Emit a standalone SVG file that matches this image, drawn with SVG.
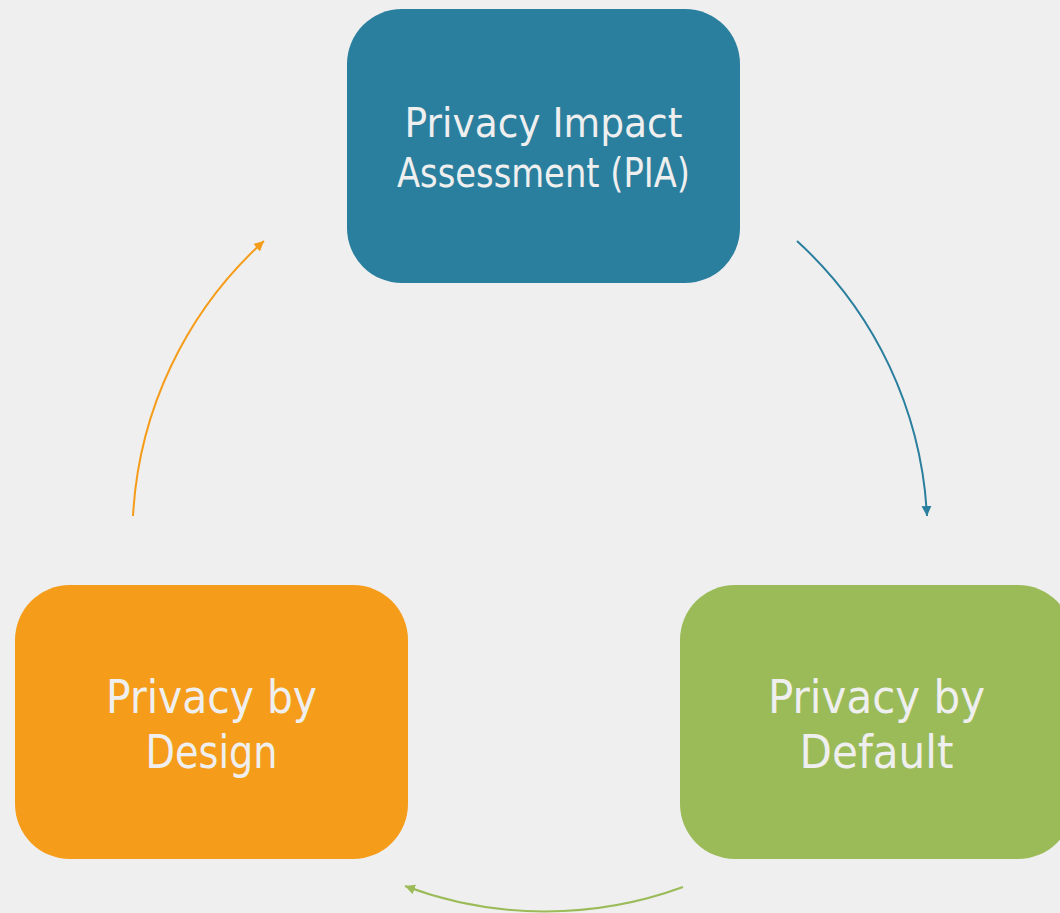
<svg xmlns="http://www.w3.org/2000/svg" width="1060" height="913" viewBox="0 0 1060 913">
<style>
.lbl{font-family:"DejaVu Sans","Verdana",sans-serif;fill:#efefef;text-anchor:middle}
.t{font-size:40px}
.b{font-size:47px}
.c{fill:none;stroke-width:2}
</style>
<defs>
<marker id="mb" markerUnits="userSpaceOnUse" markerWidth="12" markerHeight="12" refX="10" refY="5" orient="auto"><path d="M0,0 L10,5 L0,10 Z" fill="#2a7f9e"/></marker>
<marker id="mg" markerUnits="userSpaceOnUse" markerWidth="12" markerHeight="12" refX="10" refY="5" orient="auto"><path d="M0,0 L10,5 L0,10 Z" fill="#9bbb59"/></marker>
<marker id="mo" markerUnits="userSpaceOnUse" markerWidth="12" markerHeight="12" refX="10" refY="5" orient="auto"><path d="M0,0 L10,5 L0,10 Z" fill="#f59d1a"/></marker>
</defs>
<rect width="1060" height="913" fill="#efefef"/>
<g id="connectors">
<path class="c" d="M797,241 A400,400 0 0 1 927,516" stroke="#2a7f9e" marker-end="url(#mb)"/>
<path class="c" d="M683,887 A400,400 0 0 1 405,886" stroke="#9bbb59" marker-end="url(#mg)"/>
<path class="c" d="M133,516 A400,400 0 0 1 264,241" stroke="#f59d1a" marker-end="url(#mo)"/>
</g>
<g id="node-pia">
<rect x="347" y="9" width="393" height="274" rx="55" fill="#2a7f9e"/>
<text class="lbl t" x="543.5" y="137" textLength="278" lengthAdjust="spacingAndGlyphs">Privacy Impact</text>
<text class="lbl t" x="543.5" y="187" textLength="293" lengthAdjust="spacingAndGlyphs">Assessment (PIA)</text>
</g>
<g id="node-default">
<rect x="680" y="585" width="393" height="274" rx="55" fill="#9bbb59"/>
<text class="lbl b" x="876.5" y="713" textLength="217" lengthAdjust="spacingAndGlyphs">Privacy by</text>
<text class="lbl b" x="876.5" y="768" textLength="154" lengthAdjust="spacingAndGlyphs">Default</text>
</g>
<g id="node-design">
<rect x="15" y="585" width="393" height="274" rx="55" fill="#f59d1a"/>
<text class="lbl b" x="211.5" y="713" textLength="211" lengthAdjust="spacingAndGlyphs">Privacy by</text>
<text class="lbl b" x="211.5" y="768" textLength="132" lengthAdjust="spacingAndGlyphs">Design</text>
</g>
</svg>
